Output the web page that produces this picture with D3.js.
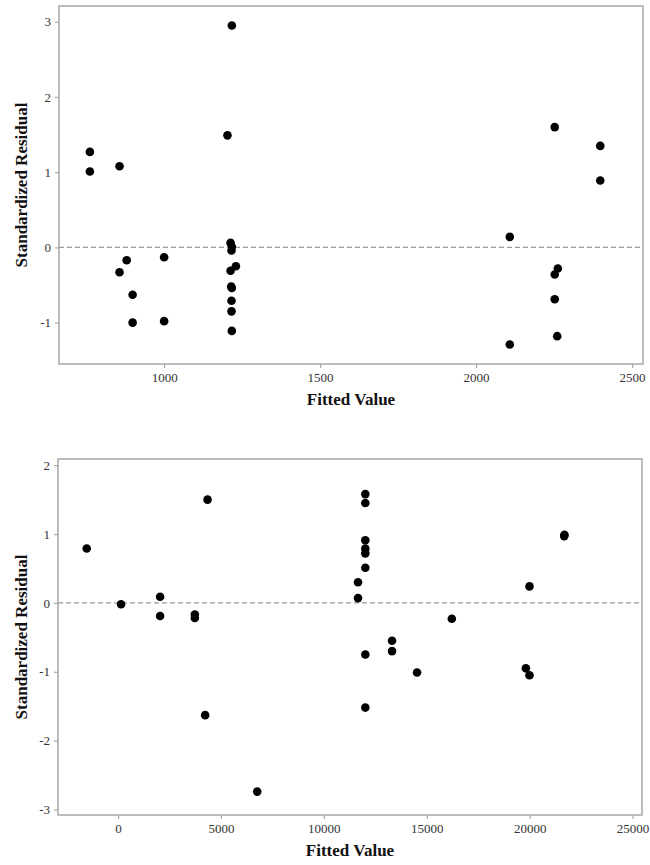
<!DOCTYPE html>
<html>
<head>
<meta charset="utf-8">
<script src="https://cdn.jsdelivr.net/npm/d3@7"></script>
<style>
  body { margin: 0; background: #fff; }
  svg { display: block; }
  .tick text { font-family: "Liberation Serif", "Times New Roman", serif; font-size: 13px; fill: #333; }
  .axis-title { font-family: "Liberation Serif", "Times New Roman", serif; font-size: 17px; font-weight: bold; fill: #111; }
</style>
</head>
<body>
<svg id="chart" width="650" height="865"></svg>
<script>
// top panel
const topFitted = [762, 762, 857, 880, 857, 899, 899, 1000, 1000, 1203, 1217,
  1213, 1217, 1216, 1230, 1213, 1215, 1217, 1216, 1216, 1217,
  2252, 2398, 2398, 2108, 2262, 2252, 2252, 2260, 2108];
const topResid = [1.27, 1.01, 1.08, -0.17, -0.33, -0.63, -1.0, -0.13, -0.98, 1.49, 2.95,
  0.06, 0.01, -0.04, -0.25, -0.31, -0.52, -0.54, -0.71, -0.85, -1.11,
  1.60, 1.35, 0.89, 0.14, -0.28, -0.36, -0.69, -1.18, -1.29];
const topXTicks = [1000, 1500, 2000, 2500];
const topYTicks = [-1, 0, 1, 2, 3];

// bottom panel
const bottomFitted = [-1522, 146, 2043, 2043, 3730, 3730, 4348, 4232, 6761,
  12014, 12014, 12014, 12014, 12014, 12014, 11659, 11659, 12014, 12014,
  13312, 13312, 14528, 16216, 19991, 19815, 19991, 21678, 21690];
const bottomResid = [0.79, -0.02, 0.09, -0.19, -0.17, -0.22, 1.50, -1.63, -2.74,
  1.58, 1.45, 0.91, 0.79, 0.72, 0.51, 0.30, 0.07, -0.75, -1.52,
  -0.55, -0.70, -1.01, -0.23, 0.24, -0.95, -1.05, 0.97, 0.99];
const bottomXTicks = [0, 5000, 10000, 15000, 20000, 25000];
const bottomYTicks = [-3, -2, -1, 0, 1, 2];

const svg = d3.select("#chart");
const plainNum = (d) => String(d); // keep ascii hyphen like the original

function drawPanel(cfg) {
  const g = svg.append("g");
  const x = d3.scaleLinear().domain(cfg.xDomain).range([cfg.left, cfg.right]);
  const y = d3.scaleLinear().domain(cfg.yDomain).range([cfg.bottom, cfg.top]);

  // frame
  g.append("rect")
    .attr("x", cfg.left)
    .attr("y", cfg.top)
    .attr("width", cfg.right - cfg.left)
    .attr("height", cfg.bottom - cfg.top)
    .attr("fill", "none")
    .attr("stroke", "#a8a8a8")
    .attr("stroke-width", 1.5);

  const xAxis = g.append("g")
    .attr("transform", `translate(0,${cfg.bottom})`)
    .call(d3.axisBottom(x).tickValues(cfg.xTicks).tickFormat(plainNum).tickSize(4).tickPadding(5));
  const yAxis = g.append("g")
    .attr("transform", `translate(${cfg.left},0)`)
    .call(d3.axisLeft(y).tickValues(cfg.yTicks).tickFormat(plainNum).tickSize(4).tickPadding(4));
  [xAxis, yAxis].forEach((a) => {
    a.select(".domain").remove();
    a.selectAll(".tick line").attr("stroke", "#a8a8a8").attr("stroke-width", 1.2);
  });

  // reference line at zero
  g.append("line")
    .attr("x1", cfg.left)
    .attr("x2", cfg.right)
    .attr("y1", y(0))
    .attr("y2", y(0))
    .attr("stroke", "#9a9a9a")
    .attr("stroke-width", 1.2)
    .attr("stroke-dasharray", "5,3");

  g.selectAll(".pt")
    .data(cfg.fitted)
    .enter()
    .append("circle")
    .attr("class", "pt")
    .attr("cx", (d) => x(d))
    .attr("cy", (d, i) => y(cfg.resid[i]))
    .attr("r", 4.3)
    .attr("fill", "#000");

  g.append("text")
    .attr("class", "axis-title")
    .attr("x", (cfg.left + cfg.right) / 2)
    .attr("y", cfg.xTitleY)
    .attr("text-anchor", "middle")
    .text("Fitted Value");

  g.append("text")
    .attr("class", "axis-title")
    .attr("transform", `translate(27,${(cfg.top + cfg.bottom) / 2}) rotate(-90)`)
    .attr("text-anchor", "middle")
    .text("Standardized Residual");
}

drawPanel({
  fitted: topFitted, resid: topResid,
  xTicks: topXTicks, yTicks: topYTicks,
  xDomain: [663, 2535], yDomain: [-1.55, 3.21],
  left: 59, right: 643, top: 6, bottom: 364, xTitleY: 405
});

drawPanel({
  fitted: bottomFitted, resid: bottomResid,
  xTicks: bottomXTicks, yTicks: bottomYTicks,
  xDomain: [-2918, 25457], yDomain: [-3.08, 2.09],
  left: 58, right: 642, top: 459, bottom: 815, xTitleY: 856
});
</script>
</body>
</html>
